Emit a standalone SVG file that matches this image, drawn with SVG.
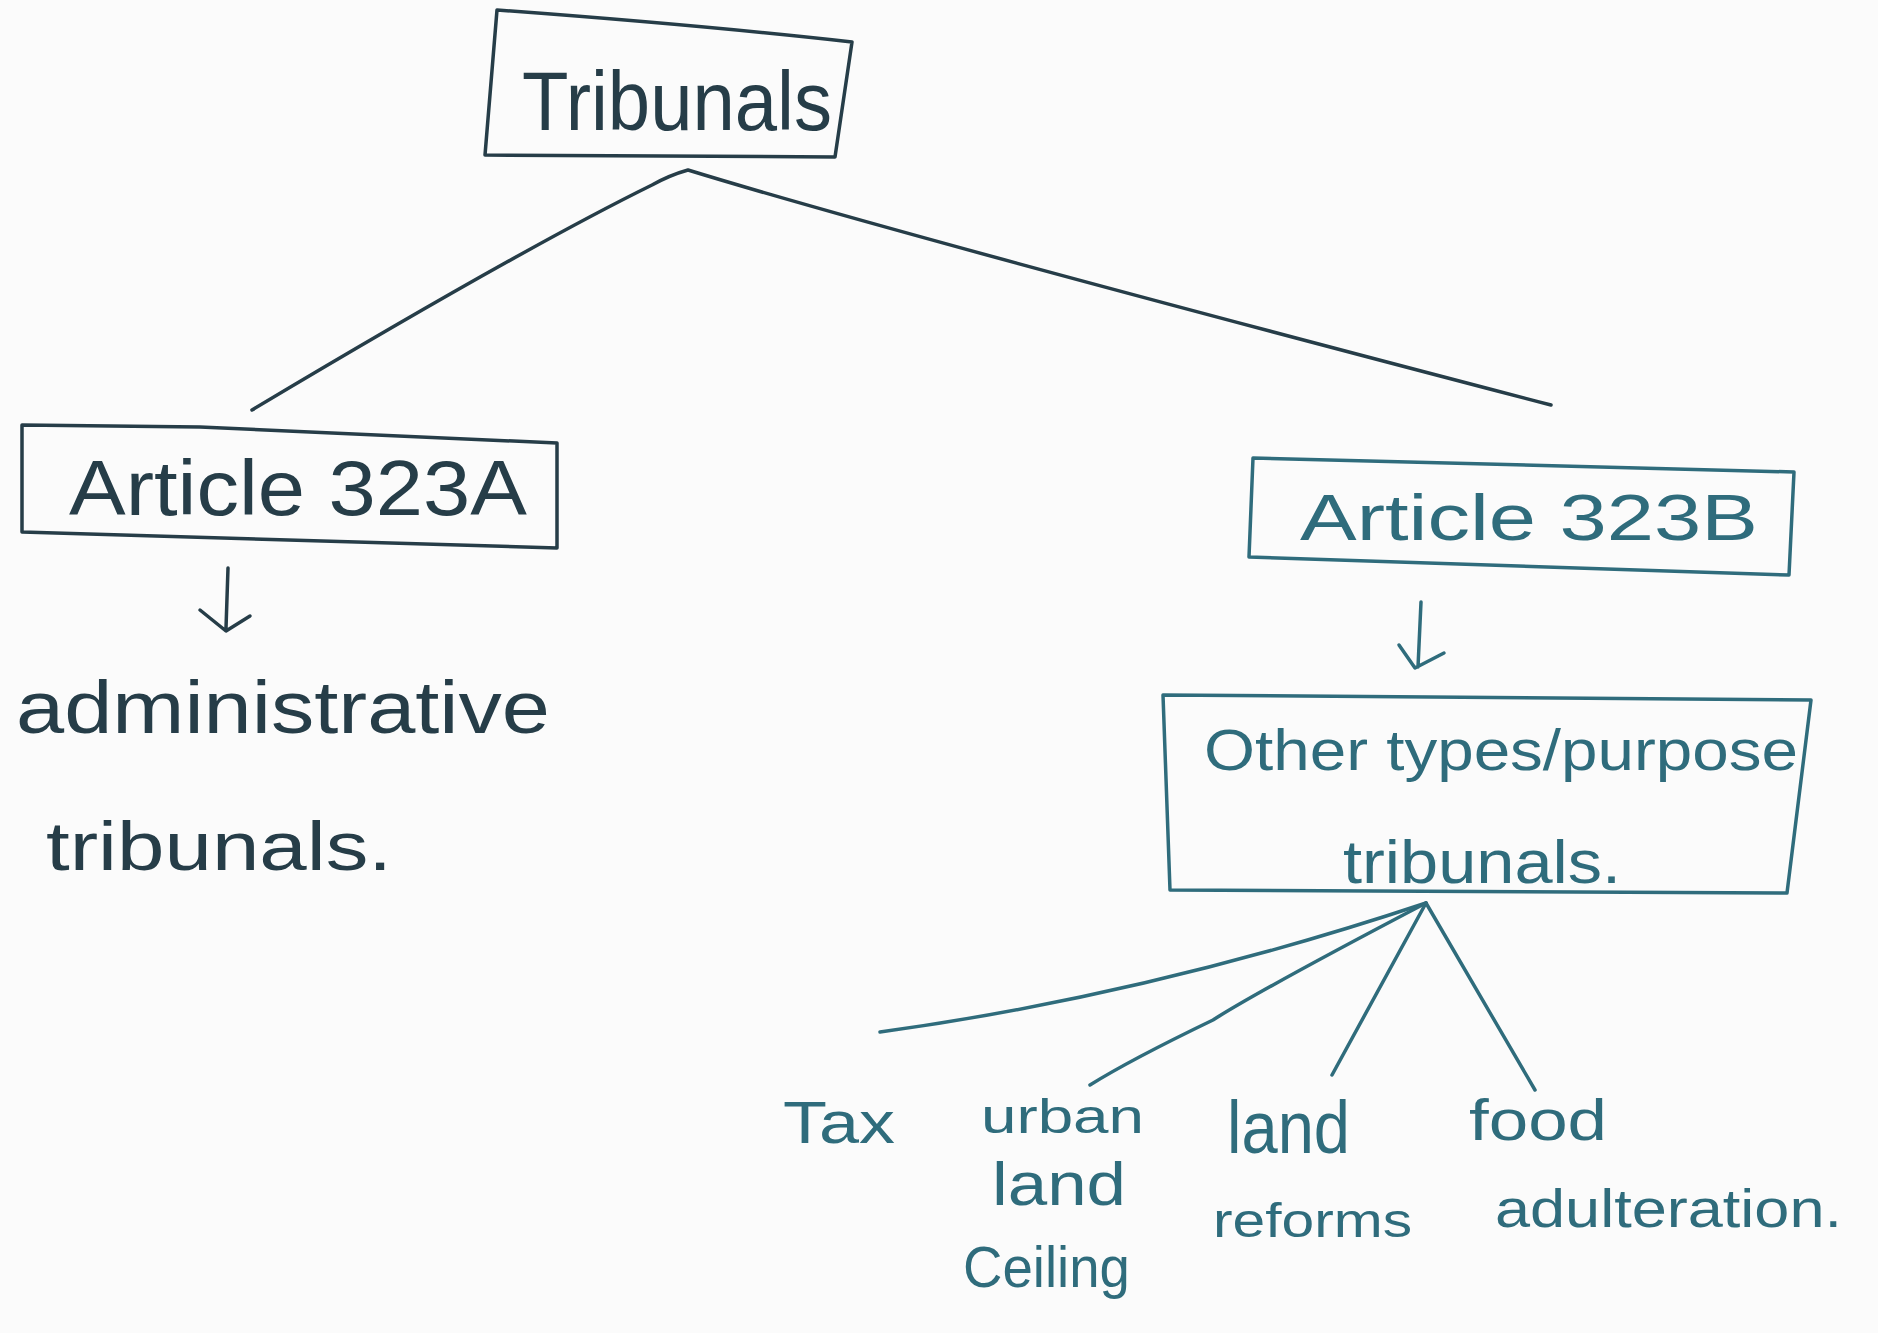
<svg xmlns="http://www.w3.org/2000/svg" width="1878" height="1333" viewBox="0 0 1878 1333">
<style>
.ink{fill:none;stroke-width:3.5;stroke-linecap:round;stroke-linejoin:round}
.dark{stroke:#263d48}
.teal{stroke:#2f6c7c}
.t{font-family:"Liberation Sans","DejaVu Sans",sans-serif;}
.td{fill:#263d48}
.tt{fill:#2f6c7c}
</style>
<rect width="1878" height="1333" fill="#fbfbfb"/>
<g id="node-tribunals">
<path class="ink dark" d="M497,10 Q700,25 852,42 L835,157 L485,155 Z"/>
<text class="t td" x="522" y="130" font-size="84" textLength="310" lengthAdjust="spacingAndGlyphs">Tribunals</text>
</g>
<g id="node-323a">
<path class="ink dark" d="M22,425 L200,427 L557,443 L557,548 L22,532 Z"/>
<text class="t td" x="69" y="515" font-size="78" textLength="458" lengthAdjust="spacingAndGlyphs">Article 323A</text>
</g>
<g id="node-admin">
<text class="t td" x="16" y="733" font-size="74" textLength="534" lengthAdjust="spacingAndGlyphs">administrative</text>
<text class="t td" x="46" y="870" font-size="68" textLength="346" lengthAdjust="spacingAndGlyphs">tribunals.</text>
</g>
<g id="node-323b">
<path class="ink teal" d="M1253,458 L1794,472 L1789,575 L1249,557 Z"/>
<text class="t tt" x="1300" y="540" font-size="64" textLength="458" lengthAdjust="spacingAndGlyphs">Article 323B</text>
</g>
<g id="node-other">
<path class="ink teal" d="M1163,695 L1811,700 L1787,893 L1170,890 Z"/>
<text class="t tt" x="1204" y="770" font-size="58" textLength="594" lengthAdjust="spacingAndGlyphs">Other types/purpose</text>
<text class="t tt" x="1343" y="883" font-size="62" textLength="278" lengthAdjust="spacingAndGlyphs">tribunals.</text>
</g>
<g id="node-tax">
<text class="t tt" x="783" y="1143" font-size="60" textLength="112" lengthAdjust="spacingAndGlyphs">Tax</text>
</g>
<g id="node-urban">
<text class="t tt" x="981" y="1133" font-size="48" textLength="163" lengthAdjust="spacingAndGlyphs">urban</text>
<text class="t tt" x="992" y="1205" font-size="62" textLength="134" lengthAdjust="spacingAndGlyphs">land</text>
<text class="t tt" x="963" y="1287" font-size="58" textLength="167" lengthAdjust="spacingAndGlyphs">Ceiling</text>
</g>
<g id="node-land">
<text class="t tt" x="1227" y="1153" font-size="74" textLength="123" lengthAdjust="spacingAndGlyphs">land</text>
<text class="t tt" x="1213" y="1237" font-size="48" textLength="199" lengthAdjust="spacingAndGlyphs">reforms</text>
</g>
<g id="node-food">
<text class="t tt" x="1469" y="1140" font-size="58" textLength="138" lengthAdjust="spacingAndGlyphs">food</text>
<text class="t tt" x="1495" y="1227" font-size="54" textLength="347" lengthAdjust="spacingAndGlyphs">adulteration.</text>
</g>
<g id="connectors">
<path class="ink dark" d="M252,410 Q520,250 652,185 Q670,175 688,170 Q900,235 1551,405"/>
<path class="ink dark" d="M228,568 L226,628 M200,610 L226,631 L250,616"/>
<path class="ink teal" d="M1421,602 L1418,667 M1399,645 L1415,668 L1444,653"/>
<path class="ink teal" d="M1426,903 Q1150,995 880,1032"/>
<path class="ink teal" d="M1426,903 Q1260,990 1213,1020 Q1130,1060 1090,1085"/>
<path class="ink teal" d="M1426,903 L1332,1075"/>
<path class="ink teal" d="M1426,903 L1535,1090"/>
</g>
</svg>
